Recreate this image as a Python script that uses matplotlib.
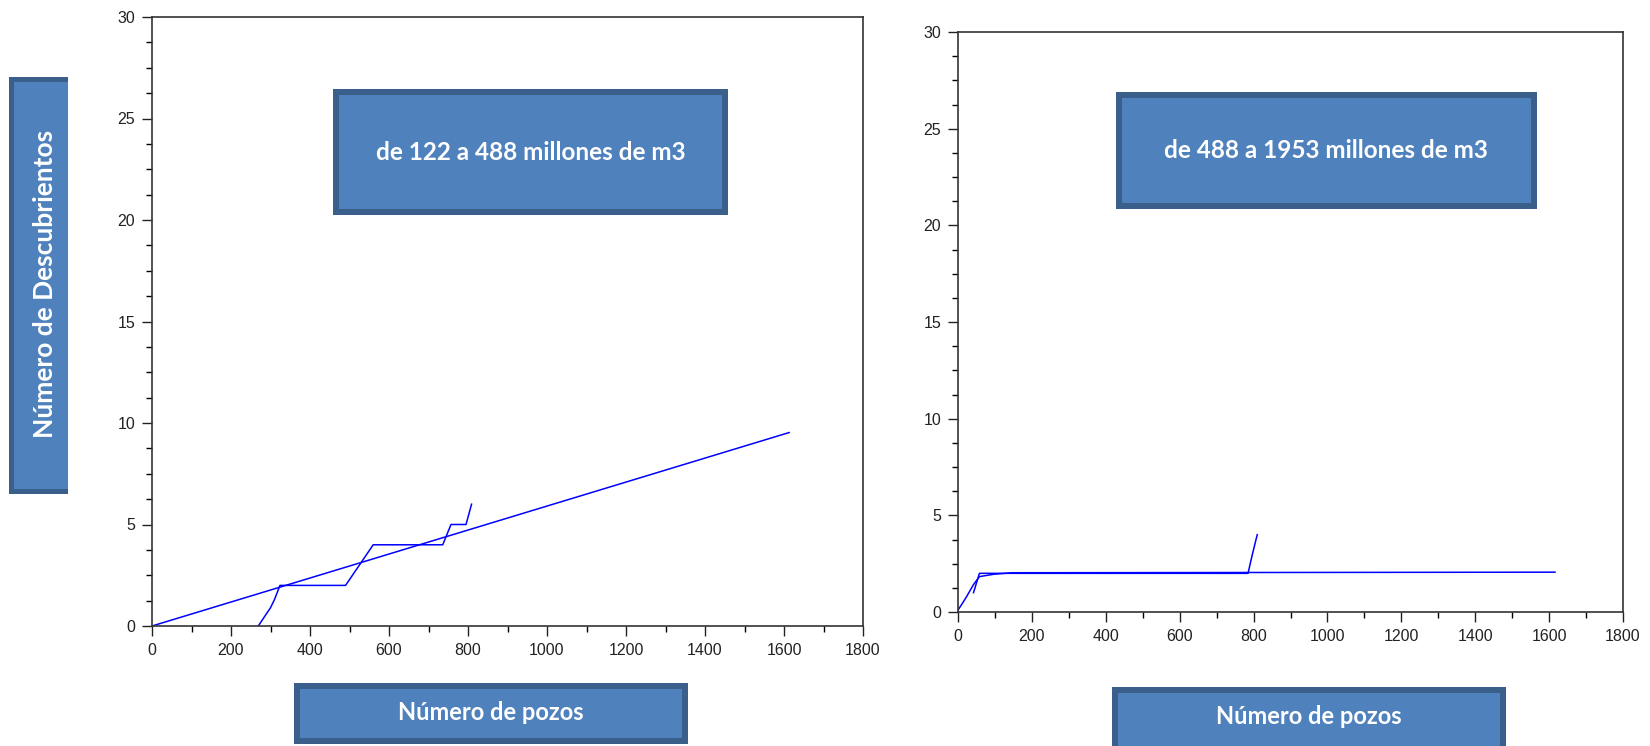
import matplotlib
matplotlib.use("Agg")
import matplotlib.pyplot as plt
from matplotlib.patches import Rectangle
from matplotlib.ticker import MultipleLocator

# --- datos ---
# panel izquierdo: de 122 a 488 millones de m3
pozos_a = [269, 300, 310, 324, 490, 525, 560, 736, 757, 795, 809]
desc_a = [0, 0.9, 1.3, 2, 2, 3, 4, 4, 5, 5, 6]
ajuste_x_a = [0, 1613]
ajuste_y_a = [0, 9.53]

# panel derecho: de 488 a 1953 millones de m3
pozos_b = [42, 50, 58, 785, 797, 810]
desc_b = [1.0, 1.5, 2.0, 2.0, 3.0, 4.0]
ajuste_x_b = [0, 12, 24, 42, 58, 96, 145, 1616]
ajuste_y_b = [0.1, 0.45, 0.82, 1.42, 1.83, 1.95, 2.03, 2.06]

titulos = ["de 122 a 488 millones de m3", "de 488 a 1953 millones de m3"]
xlabel = "Número de pozos"
ylabel = "Número de Descubrientos"

W, H = 1650, 746
fig = plt.figure(figsize=(W / 100, H / 100), dpi=100)

FILL = "#4F81BD"
EDGE = "#3A5F8B"
azul = "#0000FF"


def px_axes(x0, y0, x1, y1):
    # pixel box (top-left origin) -> figure fraction
    return [x0 / W, 1 - y1 / H, (x1 - x0) / W, (y1 - y0) / H]


def caja(x0, y0, x1, y1, lw=6):
    # rectangle in pixel coords, border drawn inside
    h = lw / 2
    r = Rectangle(((x0 + h) / W, 1 - (y1 - h) / H), (x1 - x0 - lw) / W, (y1 - y0 - lw) / H,
                  transform=fig.transFigure, facecolor=FILL, edgecolor=EDGE,
                  linewidth=lw * 0.72, zorder=5)
    fig.patches.append(r)


def texto(cx, cy, s, size, rot=0):
    fig.text(cx / W, 1 - cy / H, s, ha="center", va="center", color="white",
             fontsize=size, fontweight="bold", family="Lato", rotation=rot, zorder=6)


def estilo(ax):
    ax.set_xlim(0, 1800)
    ax.set_ylim(0, 30)
    ax.xaxis.set_major_locator(MultipleLocator(200))
    ax.xaxis.set_minor_locator(MultipleLocator(100))
    ax.yaxis.set_major_locator(MultipleLocator(5))
    ax.yaxis.set_minor_locator(MultipleLocator(1.25))
    ax.tick_params(which="major", direction="out", length=7, width=1, pad=5,
                   labelsize=11.5, colors="#222")
    ax.tick_params(which="minor", direction="out", length=4.5, width=1)
    for lab in ax.get_xticklabels() + ax.get_yticklabels():
        lab.set_family("Liberation Sans")
    for s in ax.spines.values():
        s.set_color("#333")
        s.set_linewidth(1.2)


ax1 = fig.add_axes(px_axes(152, 17, 863, 626))
ax1.plot(ajuste_x_a, ajuste_y_a, color=azul, lw=1.1)
ax1.plot(pozos_a, desc_a, color=azul, lw=1.1)
estilo(ax1)

ax2 = fig.add_axes(px_axes(958, 32, 1623, 612))
ax2.plot(ajuste_x_b, ajuste_y_b, color=azul, lw=1.1)
ax2.plot(pozos_b, desc_b, color=azul, lw=1.1)
estilo(ax2)

# cajas de titulo
caja(333, 89, 728, 215)
texto(531, 153, titulos[0], 17.5)
caja(1116, 92, 1537, 209)
texto(1326, 151, titulos[1], 17.5)

# cajas de eje x
caja(294, 683, 688, 744)
texto(491, 713, xlabel, 17)
caja(1112, 687, 1506, 752)
texto(1309, 717, xlabel, 17)

# caja de eje y (recortada a la derecha)
caja(8, 76, 95, 493, lw=5)
fig.patches.append(Rectangle((68 / W, 1 - 500 / H), 30 / W, 430 / H,
                             transform=fig.transFigure, facecolor="white",
                             edgecolor="none", zorder=5.5))
texto(45, 284, ylabel, 19, rot=90)

fig.savefig("out.png", dpi=100)
